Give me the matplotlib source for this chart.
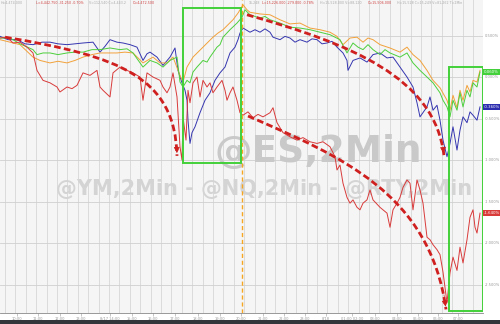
import numpy as np
import matplotlib
matplotlib.use("Agg")
import matplotlib.pyplot as plt
from matplotlib.path import Path
from matplotlib.patches import PathPatch, Rectangle

# 2-min bars (x) and % change (y)
blue_x = [0, 8, 17, 25, 33, 42, 50, 58, 67, 75, 83, 93, 100, 105, 110, 117, 123, 130, 137, 143, 147, 150, 157, 163, 170,
          175, 178, 182, 185, 187, 188, 190, 192, 195, 200, 205, 210, 215, 220, 225, 230, 235, 238, 240, 243, 250, 255,
          260, 265, 270, 273, 280, 285, 290, 295, 300, 307, 312, 317, 322, 327, 332, 337, 343, 347, 348, 353, 360, 367,
          373, 380, 387, 393, 400, 407, 413, 417, 420, 427, 430, 433, 437, 440, 443, 447, 450, 453, 457, 460, 463, 467,
          470, 473, 477, 480]
blue_y = [0.49, 0.45, 0.45, 0.40, 0.39, 0.42, 0.42, 0.40, 0.39, 0.40, 0.41, 0.42, 0.30, 0.37, 0.45, 0.42, 0.41, 0.39,
          0.36, 0.20, 0.28, 0.30, 0.24, 0.14, 0.24, 0.35, 0.08, -0.07, -0.16, -0.28, -0.52, -0.80, -0.67, -0.60, -0.43,
          -0.28, -0.19, -0.04, 0.05, 0.12, 0.29, 0.36, 0.45, 0.53, 0.59, 0.54, 0.57, 0.54, 0.58, 0.54, 0.48, 0.45, 0.49,
          0.47, 0.42, 0.45, 0.42, 0.46, 0.45, 0.40, 0.41, 0.43, 0.36, 0.29, 0.20, 0.08, 0.20, 0.23, 0.18, 0.27, 0.29,
          0.23, 0.24, 0.12, 0.00, -0.12, -0.31, -0.48, -0.36, -0.24, -0.40, -0.34, -0.52, -0.76, -0.96, -0.80, -0.60,
          -0.88, -0.64, -0.48, -0.55, -0.42, -0.46, -0.52, -0.36]

green_x = [0, 10, 20, 33, 37, 43, 50, 58, 67, 75, 83, 92, 100, 110, 120, 127, 133, 143, 150, 157, 163, 170, 177, 180,
           183, 187, 190, 193, 197, 203, 207, 210, 217, 220, 223, 230, 237, 242, 245, 250, 255, 260, 265, 270, 280, 290,
           300, 310, 320, 330, 340, 347, 353, 358, 363, 368, 373, 380, 385, 390, 400, 407, 413, 420, 427, 433, 440, 443,
           447, 450, 453, 457, 460, 463, 467, 470, 473, 477, 480]
green_y = [0.47, 0.47, 0.40, 0.33, 0.27, 0.29, 0.29, 0.27, 0.29, 0.30, 0.30, 0.33, 0.33, 0.35, 0.33, 0.34, 0.29, 0.12,
           0.20, 0.17, 0.12, 0.20, 0.24, -0.06, -0.12, -0.04, -0.07, 0.06, 0.12, 0.20, 0.18, 0.24, 0.36, 0.39, 0.48,
           0.57, 0.65, 0.72, 0.81, 0.75, 0.73, 0.71, 0.73, 0.69, 0.65, 0.60, 0.59, 0.57, 0.54, 0.51, 0.45, 0.29, 0.41,
           0.36, 0.33, 0.39, 0.33, 0.27, 0.33, 0.29, 0.24, 0.29, 0.17, 0.08, 0.00, -0.07, -0.19, -0.28, -0.36, -0.48,
           -0.28, -0.40, -0.19, -0.36, -0.16, -0.24, -0.07, -0.12, 0.06]

orange_x = [0, 10, 20, 33, 40, 50, 58, 67, 75, 83, 92, 100, 117, 125, 133, 143, 153, 160, 167, 173, 180, 183, 187, 190,
            193, 198, 203, 208, 213, 218, 223, 228, 233, 238, 243, 247, 250, 260, 270, 280, 290, 300, 310, 320, 330,
            337, 343, 350, 357, 363, 368, 373, 380, 390, 400, 407, 413, 420, 427, 433, 440, 447, 450, 453, 457, 460,
            463, 467, 470, 473, 477, 480]
orange_y = [0.45, 0.42, 0.39, 0.24, 0.20, 0.17, 0.19, 0.17, 0.20, 0.24, 0.27, 0.29, 0.29, 0.30, 0.29, 0.17, 0.24, 0.17,
            0.17, 0.24, 0.02, -0.06, 0.12, 0.18, 0.24, 0.30, 0.36, 0.42, 0.48, 0.53, 0.57, 0.63, 0.69, 0.77, 0.87, 0.81,
            0.78, 0.76, 0.75, 0.69, 0.64, 0.65, 0.59, 0.57, 0.54, 0.49, 0.39, 0.47, 0.48, 0.42, 0.47, 0.45, 0.39, 0.35,
            0.30, 0.36, 0.27, 0.20, 0.08, -0.04, -0.13, -0.28, -0.40, -0.22, -0.37, -0.16, -0.28, -0.10, -0.18, -0.04,
            -0.06, 0.08]

red_x = [0, 7, 13, 20, 27, 33, 37, 40, 43, 50, 57, 60, 67, 72, 77, 83, 90, 97, 100, 103, 110, 113, 120, 127, 133, 140,
         143, 147, 153, 160, 163, 167, 170, 173, 177, 180, 182, 183, 186, 188, 190, 193, 197, 200, 203, 207, 210, 213,
         217, 222, 225, 227, 230, 233, 237, 240, 243, 248, 253, 258, 263, 270, 273, 277, 283, 290, 297, 303, 310, 317,
         323, 330, 335, 337, 340, 343, 347, 350, 353, 357, 360, 363, 367, 370, 373, 380, 387, 390, 393, 397, 400, 403,
         407, 410, 413, 417, 420, 423, 427, 430, 433, 437, 440, 443, 447, 450, 453, 457, 460, 463, 467, 470, 473, 475,
         477, 480]
red_y = [0.47, 0.48, 0.41, 0.42, 0.36, 0.29, 0.08, 0.02, -0.04, -0.07, -0.12, -0.18, -0.12, -0.14, -0.10, 0.05, 0.02,
         0.08, -0.12, -0.16, -0.24, 0.05, 0.12, 0.08, 0.05, 0.00, -0.28, 0.05, 0.00, -0.04, -0.12, -0.19, -0.12, 0.05,
         -0.24, -0.84, -1.00, -0.48, -0.76, -0.16, -0.31, -0.07, 0.00, -0.24, -0.04, -0.12, -0.07, -0.19, -0.12, -0.04,
         -0.16, -0.28, -0.19, -0.12, -0.28, -0.43, -0.46, -0.42, -0.49, -0.45, -0.48, -0.43, -0.37, -0.55, -0.67, -0.72,
         -0.76, -0.73, -0.78, -0.80, -0.78, -0.84, -0.96, -1.12, -1.06, -1.28, -1.45, -1.52, -1.48, -1.57, -1.60, -1.52,
         -1.48, -1.36, -1.48, -1.57, -1.64, -1.81, -1.60, -1.52, -1.45, -1.33, -1.24, -1.28, -1.60, -1.24, -1.36, -1.52,
         -1.93, -1.96, -2.02, -2.08, -2.14, -2.35, -2.72, -2.36, -2.17, -2.33, -2.05, -2.24, -1.96, -1.69, -1.60, -1.81,
         -1.88, -1.64]

grid_levels = [0.5, 0.0, -0.5, -1.0, -1.5, -2.0, -2.5]
session_break = 242
time_ticks = [17, 38, 60, 81, 110, 132, 153, 175, 198, 220, 241, 263, 284, 305, 326, 352, 375, 397, 418, 438, 458]
time_labels = ["10:00", "11:00", "12:00", "13:00", "8/17 14:00", "15:00", "16:00", "17:00", "18:00", "19:00", "20:00",
               "21:00", "22:00", "23:00", "8/18", "01:00 02:00", "03:00", "04:00", "05:00", "06:00", "07:00"]

# dashed "trend" arrows (bezier control points)
arrows = [
    [(5, 0.48), (120, 0.25), (175, 0.0), (177, -0.95)],
    [(247, 0.75), (350, 0.40), (435, 0.0), (444, -0.95)],
    [(248, -0.47), (340, -0.95), (430, -1.40), (446, -2.80)],
]
boxes = [(183, 241, -1.04, 0.83), (449, 483, -2.82, 0.12)]

# header quote strip: (x pixel, text, colour)
header = [(1, "H=4,474.000", "#aaaaaa"), (36, "L=4,442.750 -31.250 -0.70%", "#d04040"),
          (89, "V=112,540 C=4,443.2", "#aaaaaa"), (133, "O=4,472.500", "#d04040"),
          (249, "15,248", "#aaaaaa"), (262, "L=15,226.000 -279.000 -0.78%", "#d04040"),
          (320, "H=15,528.000 V=88,120", "#aaaaaa"), (368, "O=15,506.000", "#d04040"),
          (397, "H=15,528 C=15,249 V=81,262 T=2Min", "#aaaaaa")]

fig = plt.figure(figsize=(5, 3.24), dpi=100)
fig.patch.set_facecolor("white")
ax = fig.add_axes([0, 11 / 324, 483 / 500, 313 / 324])
ax.set_facecolor("#f5f5f5")
ax.set_xlim(0, 483)
ax.set_ylim(-2.843, 0.928)
for s in ax.spines.values():
    s.set_visible(False)
ax.spines["bottom"].set_visible(True)
ax.spines["bottom"].set_color("#888888")
ax.spines["bottom"].set_linewidth(0.6)

for gx in np.arange(5, 483, 10.4):
    ax.axvline(gx, color="#d6d6d6", lw=0.6, zorder=0)
for gy in grid_levels:
    ax.axhline(gy, color="#cfcfcf", lw=0.6, zorder=0)

ax.set_yticks([])
ax.set_xticks(time_ticks)
ax.set_xticklabels(time_labels)
ax.tick_params(axis="x", length=2, width=0.4, colors="#999999", labelsize=2.6, pad=1)

# watermarks
ax.text(318, -0.90, "@ES,2Min", fontsize=27, fontweight="bold", color="#c9c9c9", ha="center", va="center", zorder=1)
ax.text(264, -1.35, "@YM,2Min - @NQ,2Min - @RTY,2Min", fontsize=15, fontweight="bold", color="#d4d4d4",
        ha="center", va="center", zorder=1)

ax.plot(blue_x, blue_y, color="#3535b0", lw=0.7, zorder=3)
ax.plot(orange_x, orange_y, color="#f2a13a", lw=0.7, zorder=3)
ax.plot(green_x, green_y, color="#4ccf3c", lw=0.7, zorder=3)
ax.plot(red_x, red_y, color="#d93a3a", lw=0.7, zorder=3)

ax.axvline(session_break, color="#f5a623", lw=1.0, ls=(0, (3, 2)), zorder=4)

for x0, x1, y0, y1 in boxes:
    ax.add_patch(Rectangle((x0, y0), x1 - x0, y1 - y0, fill=False, ec="#43d03a", lw=1.4, zorder=5))

for pts in arrows:
    path = Path(pts, [Path.MOVETO, Path.CURVE4, Path.CURVE4, Path.CURVE4])
    ax.add_patch(PathPatch(path, fill=False, ec="#cf1f1f", lw=2.0, ls=(0, (2.4, 1.2)), zorder=6, capstyle="butt"))
    tail = (pts[3][0] - (pts[3][0] - pts[2][0]) * 0.15, pts[3][1] - (pts[3][1] - pts[2][1]) * 0.15)
    ax.annotate("", xy=pts[3], xytext=tail,
                arrowprops=dict(arrowstyle="-|>", color="#cf1f1f", lw=0.5, mutation_scale=9), zorder=7)

# right axis labels
for gy in grid_levels:
    ax.text(485, gy, f"{gy:.3f}%", fontsize=2.6, color="#999999", va="center", ha="left", clip_on=False)
for ys, col in [(green_y, "#43d03a"), (blue_y, "#2d2db0"), (red_y, "#d93a3a")]:
    ax.text(484, ys[-1], f"{ys[-1]:.3f}%", fontsize=2.8, color="white", va="center", ha="left", clip_on=False,
            bbox=dict(boxstyle="square,pad=0.25", fc=col, ec="none"))

for px, txt, col in header:
    fig.text(px / 500, 1 - 3.5 / 324, txt, fontsize=2.3, color=col, va="center", ha="left")

fig.patches.append(Rectangle((0, 0), 1, 4 / 324, transform=fig.transFigure, fc="#33373b", ec="none"))

fig.savefig("out.png", dpi=100)
